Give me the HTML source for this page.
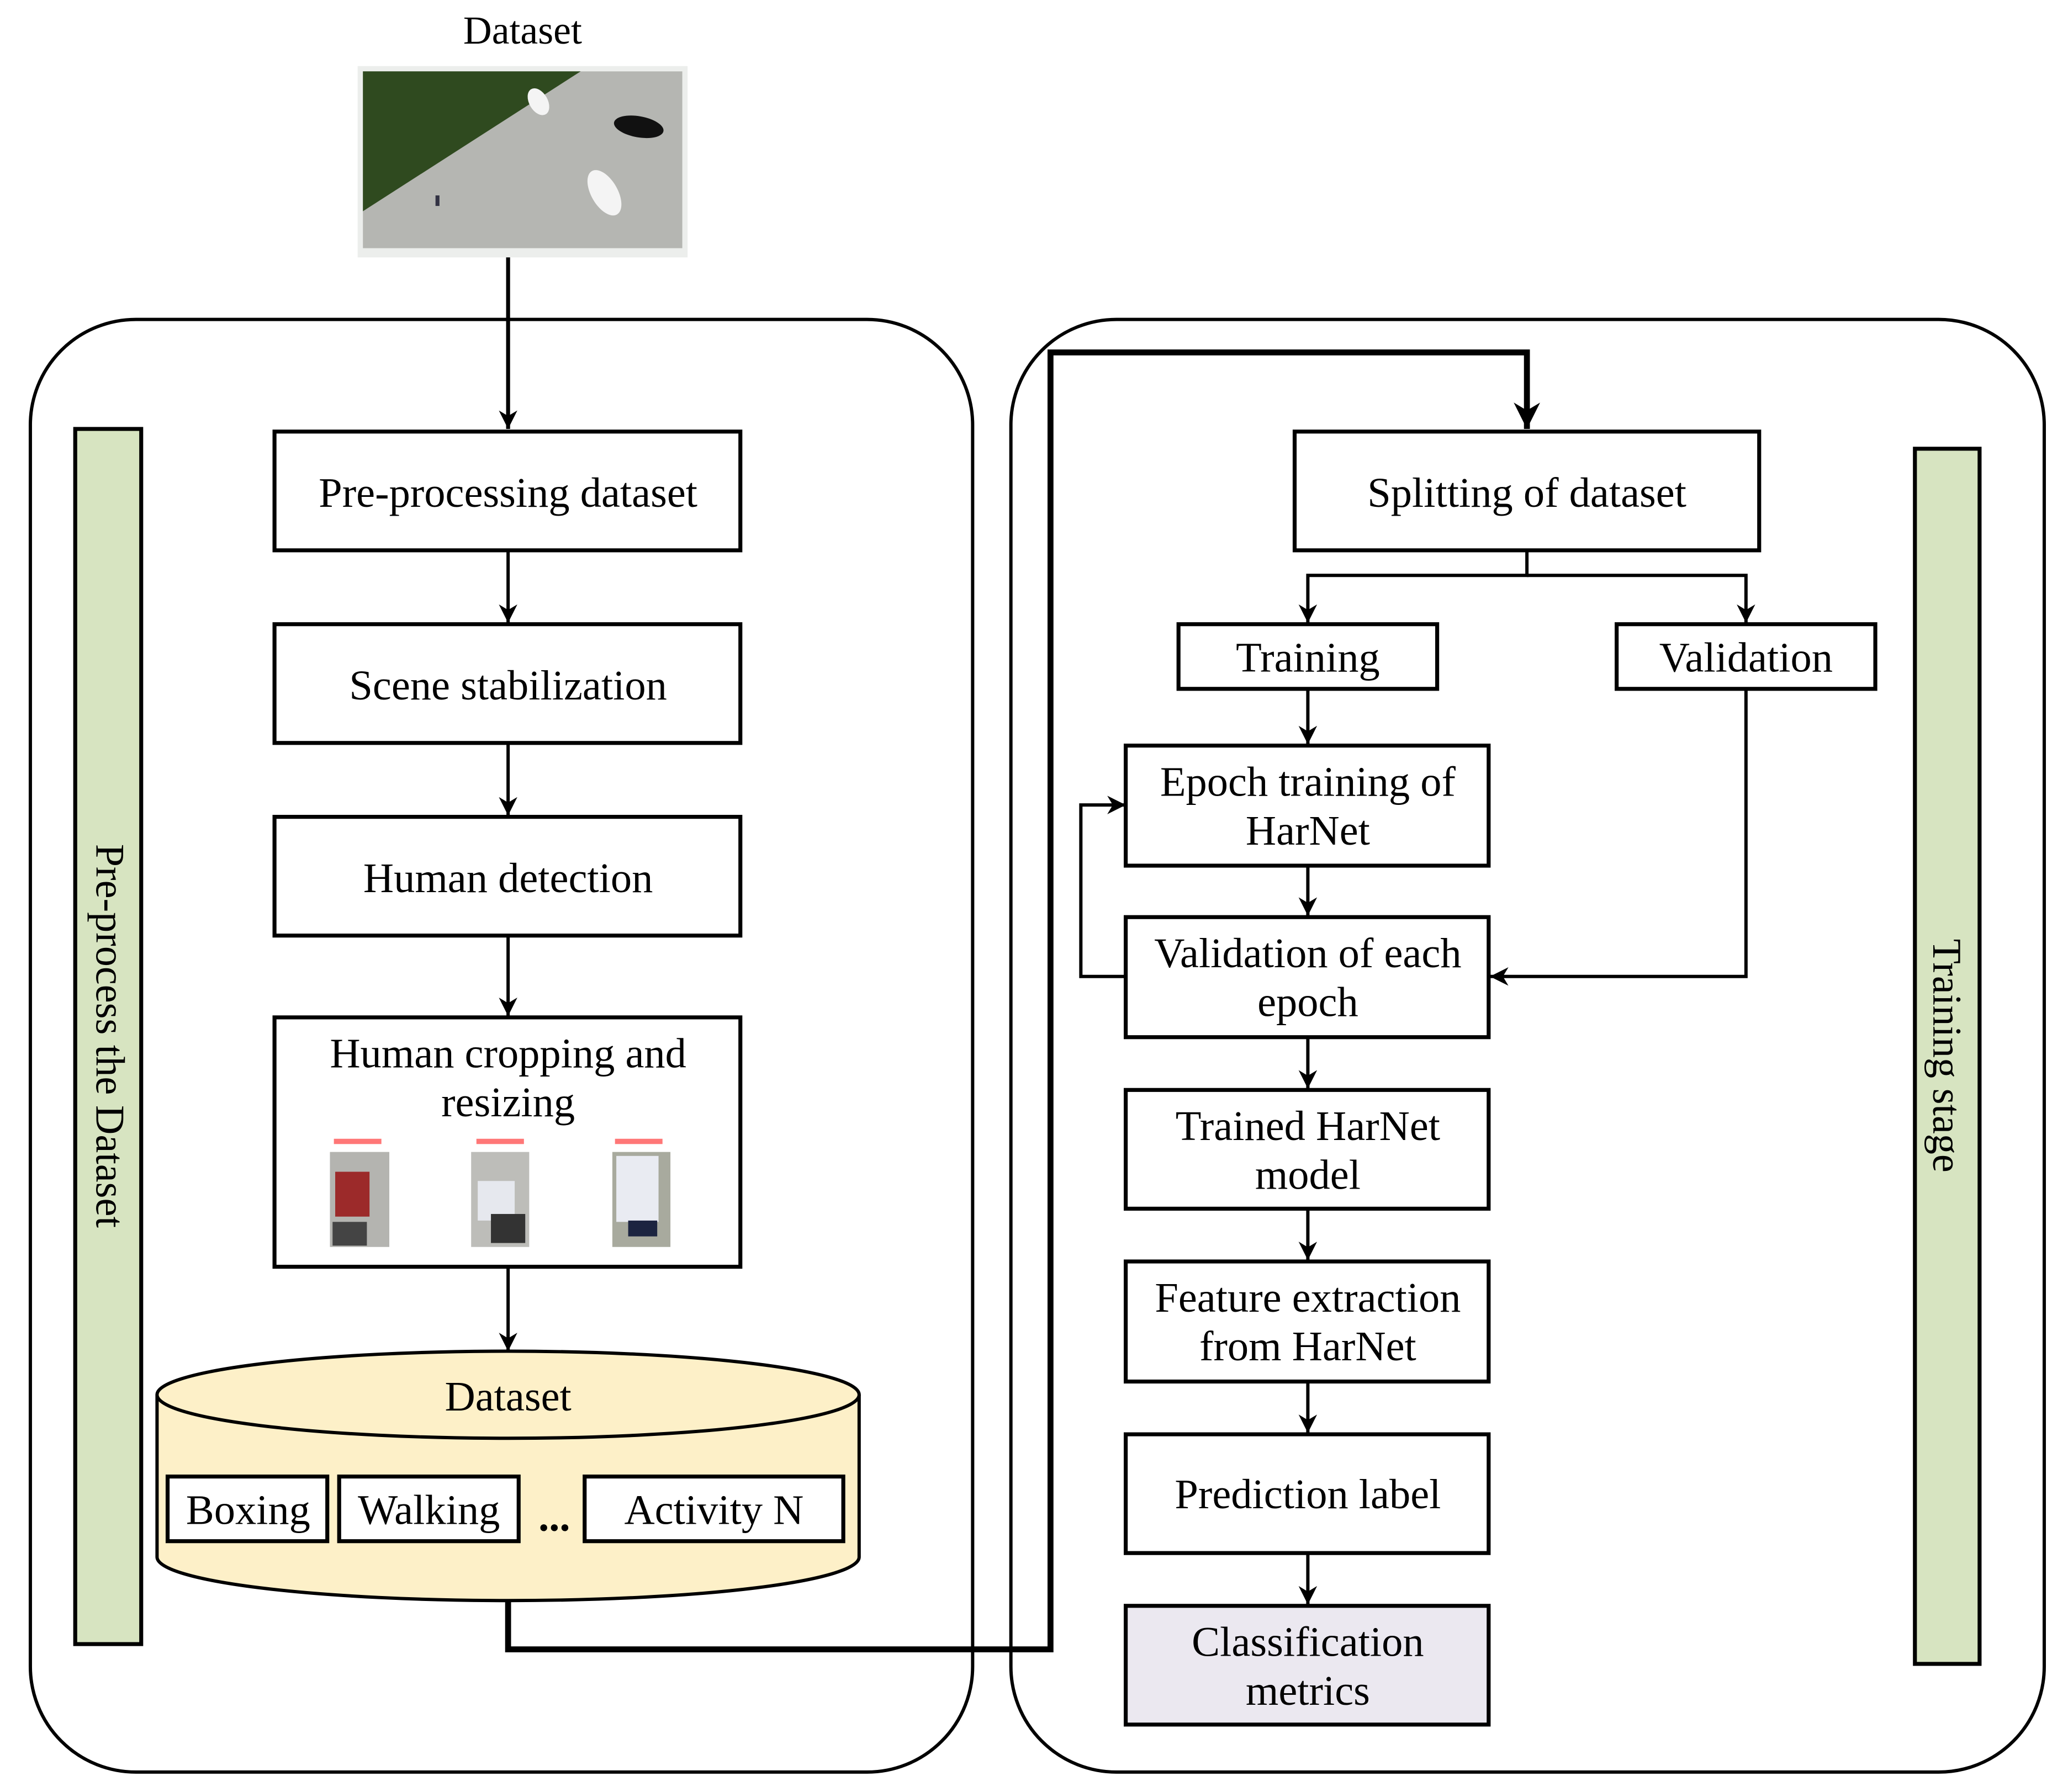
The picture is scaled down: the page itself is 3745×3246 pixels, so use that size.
<!DOCTYPE html>
<html><head><meta charset="utf-8"><style>html,body{margin:0;padding:0;background:#fff}svg{display:block}</style></head>
<body>
<svg width="3745" height="3246" viewBox="0 0 1567 1358" xmlns="http://www.w3.org/2000/svg" font-family="Liberation Serif, serif" font-size="32">
<defs>
<marker id="a" viewBox="0 0 10 10" refX="10" refY="5" markerWidth="14" markerHeight="14" markerUnits="userSpaceOnUse" orient="auto"><path d="M0,0 L10,5 L0,10 L3,5 z" fill="#000"/></marker>
<marker id="b" viewBox="0 0 10 10" refX="10" refY="5" markerWidth="20" markerHeight="20" markerUnits="userSpaceOnUse" orient="auto"><path d="M0,0 L10,5 L0,10 L3,5 z" fill="#000"/></marker>
</defs>
<rect width="1567" height="1358" fill="#fff"/>
<text x="396" y="33" text-anchor="middle" font-size="30">Dataset</text>
<rect x="271" y="50" width="250" height="145" fill="#eceeec"/>
<rect x="275" y="54" width="242" height="134" fill="#b5b6b2"/>
<polygon points="275,54 440,54 275,160" fill="#2f4a1f"/>
<ellipse cx="408" cy="77" rx="7" ry="11" fill="#f4f4f4" transform="rotate(-30 408 77)"/>
<ellipse cx="484" cy="96" rx="19" ry="8" fill="#111" transform="rotate(10 484 96)"/>
<ellipse cx="458" cy="146" rx="10" ry="19" fill="#f4f4f4" transform="rotate(-30 458 146)"/>
<rect x="330" y="148" width="3" height="8" fill="#334"/>

<rect x="23" y="242" width="714" height="1101" rx="80" fill="none" stroke="#000" stroke-width="2.5"/>
<rect x="766" y="242" width="783" height="1101" rx="80" fill="none" stroke="#000" stroke-width="2.5"/>

<rect x="57" y="325" width="50" height="921" fill="#d7e4c1" stroke="#000" stroke-width="3"/>
<text transform="translate(73 785) rotate(90)" text-anchor="middle" font-size="31">Pre-process the Dataset</text>
<rect x="1451" y="340" width="49" height="921" fill="#d7e4c1" stroke="#000" stroke-width="3"/>
<text transform="translate(1465 800) rotate(90)" text-anchor="middle" font-size="31">Training stage</text>

<g stroke="#000" stroke-width="2.5" fill="none">
<line x1="385" y1="195" x2="385" y2="325" marker-end="url(#a)" stroke-width="3"/>
<line x1="385" y1="418" x2="385" y2="472" marker-end="url(#a)"/>
<line x1="385" y1="564" x2="385" y2="618" marker-end="url(#a)"/>
<line x1="385" y1="710" x2="385" y2="770" marker-end="url(#a)"/>
<line x1="385" y1="961" x2="385" y2="1024" marker-end="url(#a)"/>
</g>
<g fill="#fff" stroke="#000" stroke-width="3">
<rect x="208" y="327" width="353" height="90"/>
<rect x="208" y="473" width="353" height="90"/>
<rect x="208" y="619" width="353" height="90"/>
<rect x="208" y="771" width="353" height="189"/>
</g>
<g text-anchor="middle">
<text x="385" y="384">Pre-processing dataset</text>
<text x="385" y="530">Scene stabilization</text>
<text x="385" y="676">Human detection</text>
<text x="385" y="809">Human cropping and</text>
<text x="385" y="846">resizing</text>
</g>
<rect x="250" y="873" width="45" height="72" fill="#b4b4b0"/>
<rect x="254" y="888" width="26" height="34" fill="#9c2a2a"/>
<rect x="252" y="926" width="26" height="18" fill="#444"/>
<rect x="357" y="873" width="44" height="72" fill="#bdbdb9"/>
<rect x="362" y="895" width="28" height="30" fill="#e6e8ee"/>
<rect x="372" y="920" width="26" height="22" fill="#333"/>
<rect x="464" y="873" width="44" height="72" fill="#a8aa9e"/>
<rect x="467" y="876" width="32" height="50" fill="#e9ebf2"/>
<rect x="476" y="925" width="22" height="12" fill="#1c2440"/>
<rect x="253" y="863" width="36" height="4" fill="#f77"/>
<rect x="361" y="863" width="36" height="4" fill="#f77"/>
<rect x="466" y="863" width="36" height="4" fill="#f77"/>

<path d="M119,1057 L119,1180 A266,33 0 0 0 651,1180 L651,1057" fill="#fdf0c8" stroke="#000" stroke-width="2.5"/>
<ellipse cx="385" cy="1057" rx="266" ry="33" fill="#fdf0c8" stroke="#000" stroke-width="2.5"/>
<text x="385" y="1069" text-anchor="middle">Dataset</text>
<g fill="#fff" stroke="#000" stroke-width="3">
<rect x="127" y="1119" width="121" height="49"/>
<rect x="257" y="1119" width="136" height="49"/>
<rect x="443" y="1119" width="196" height="49"/>
</g>
<g text-anchor="middle">
<text x="188" y="1155">Boxing</text>
<text x="325" y="1155">Walking</text>
<text x="541" y="1155">Activity N</text>
<text x="420" y="1160" font-weight="bold">...</text>
</g>

<polyline points="385,1213 385,1250 796,1250 796,267 1157,267 1157,325" fill="none" stroke="#000" stroke-width="4.5" marker-end="url(#b)"/>

<g stroke="#000" stroke-width="2.5" fill="none">
<polyline points="1157,418 1157,436 991,436 991,472" marker-end="url(#a)"/>
<polyline points="1157,436 1323,436 1323,472" marker-end="url(#a)"/>
<line x1="991" y1="522" x2="991" y2="564" marker-end="url(#a)"/>
<line x1="991" y1="656" x2="991" y2="694" marker-end="url(#a)"/>
<line x1="991" y1="786" x2="991" y2="825" marker-end="url(#a)"/>
<line x1="991" y1="916" x2="991" y2="955" marker-end="url(#a)"/>
<line x1="991" y1="1047" x2="991" y2="1086" marker-end="url(#a)"/>
<line x1="991" y1="1177" x2="991" y2="1216" marker-end="url(#a)"/>
<polyline points="853,740 819,740 819,610 853,610" marker-end="url(#a)"/>
<polyline points="1323,522 1323,740 1129,740" marker-end="url(#a)"/>
</g>
<g fill="#fff" stroke="#000" stroke-width="3">
<rect x="981" y="327" width="352" height="90"/>
<rect x="893" y="473" width="196" height="49"/>
<rect x="1225" y="473" width="196" height="49"/>
<rect x="853" y="565" width="275" height="91"/>
<rect x="853" y="695" width="275" height="91"/>
<rect x="853" y="826" width="275" height="90"/>
<rect x="853" y="956" width="275" height="91"/>
<rect x="853" y="1087" width="275" height="90"/>
<rect x="853" y="1217" width="275" height="90" fill="#ebe8f0"/>
</g>
<g text-anchor="middle">
<text x="1157" y="384">Splitting of dataset</text>
<text x="991" y="509">Training</text>
<text x="1323" y="509">Validation</text>
<text x="991" y="603">Epoch training of</text>
<text x="991" y="640">HarNet</text>
<text x="991" y="733">Validation of each</text>
<text x="991" y="770">epoch</text>
<text x="991" y="864">Trained HarNet</text>
<text x="991" y="901">model</text>
<text x="991" y="994">Feature extraction</text>
<text x="991" y="1031">from HarNet</text>
<text x="991" y="1143">Prediction label</text>
<text x="991" y="1255">Classification</text>
<text x="991" y="1292">metrics</text>
</g>
</svg>
</body></html>
